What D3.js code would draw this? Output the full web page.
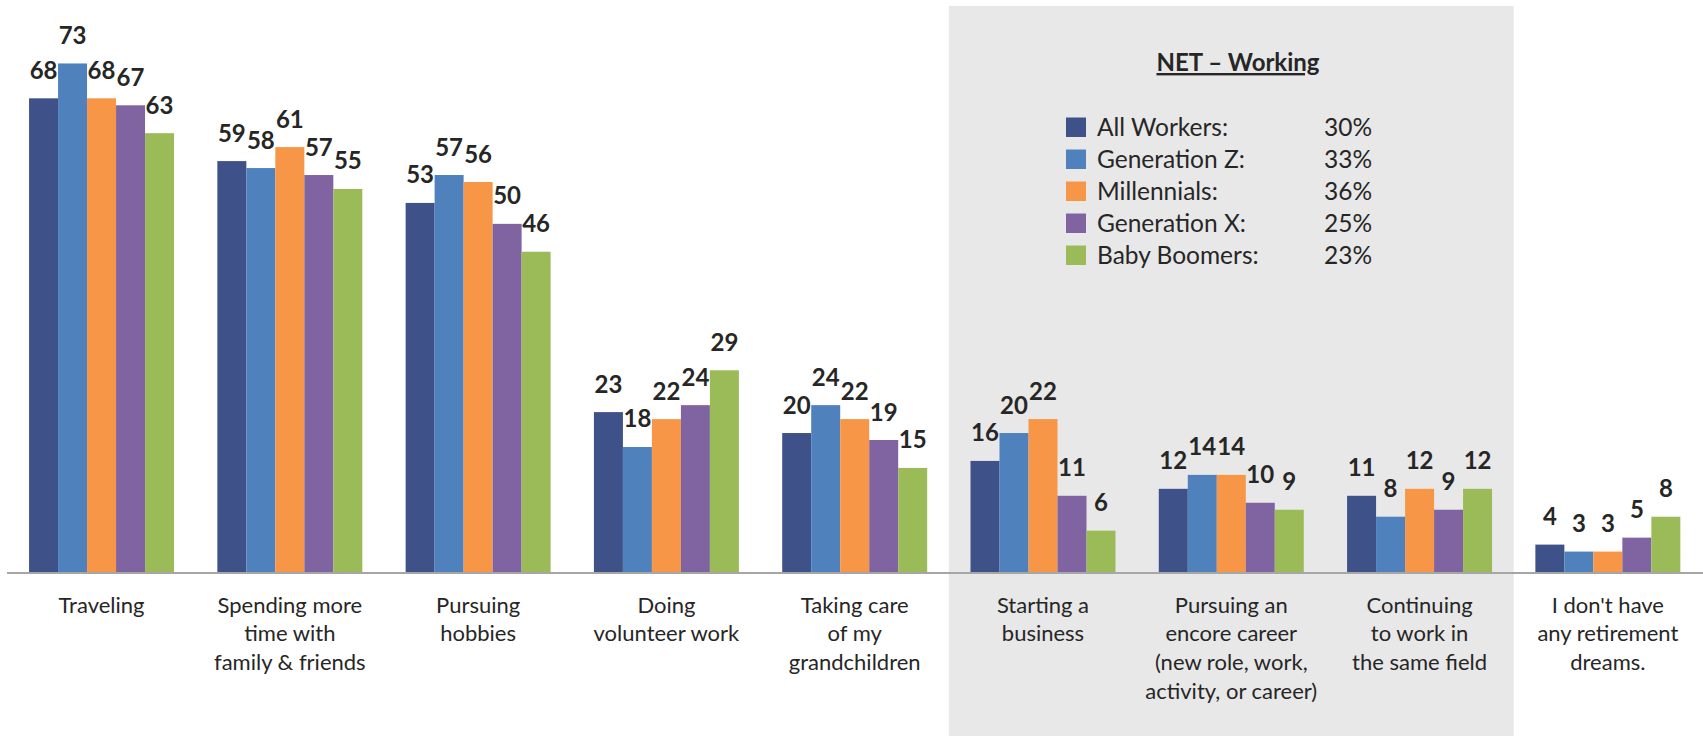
<!DOCTYPE html>
<html>
<head>
<meta charset="utf-8">
<style>
  body { margin: 0; background: #fff; }
  svg { display: block; font-family: Lato, "Open Sans", sans-serif; }
  .bar-label { font-weight: bold; font-size: 24px; fill: #262626; }
  .cat-label { font-size: 22px; fill: #262626; }
  .legend text { font-size: 24.5px; fill: #262626; }
</style>
</head>
<body>
<svg width="1703" height="736"></svg>

<script src="https://d3js.org/d3.v7.min.js"></script>
<script>

// categories (x axis), lines split by |
var categories = [
  "Traveling",
  "Spending more|time with|family & friends",
  "Pursuing|hobbies",
  "Doing|volunteer work",
  "Taking care|of my|grandchildren",
  "Starting a|business",
  "Pursuing an|encore career|(new role, work,|activity, or career)",
  "Continuing|to work in|the same field",
  "I don't have|any retirement|dreams."
];

var seriesNames = ["All Workers:", "Generation Z:", "Millennials:", "Generation X:", "Baby Boomers:"];
var seriesColours = ["#3f5189", "#4f81bd", "#f79646", "#8064a2", "#9bbb59"];
var netWorking = ["30%", "33%", "36%", "25%", "23%"];

// values per series, in category order
var allWorkers   = [68, 59, 53, 23, 20, 16, 12, 11, 4];
var generationZ  = [73, 58, 57, 18, 24, 20, 14, 8, 3];
var millennials  = [68, 61, 56, 22, 22, 22, 14, 12, 3];
var generationX  = [67, 57, 50, 24, 19, 11, 10, 9, 5];
var babyBoomers  = [63, 55, 46, 29, 15, 6, 9, 12, 8];

var seriesValues = [allWorkers, generationZ, millennials, generationX, babyBoomers];

// the shaded "NET - Working" categories
var netCategories = [categories[5], categories[6], categories[7]];

var svg = d3.select("svg"),
    width = +svg.attr("width"),
    height = +svg.attr("height");

var baseline = 572.5;

var x = d3.scaleBand()
    .domain(categories)
    .range([7.4, 1702])
    .paddingInner(0.23)
    .paddingOuter(0.115);

var xInner = d3.scaleBand()
    .domain(seriesNames)
    .range([0, x.bandwidth()]);

var y = d3.scaleLinear()
    .domain([0, 82.1])
    .range([baseline, 0]);

var colour = d3.scaleOrdinal().domain(seriesNames).range(seriesColours);

// grey background behind the NET - Working group
var step = x.step();
var netLeft = x(netCategories[0]) - x.paddingInner() * step / 2;
var netRight = x(netCategories[netCategories.length - 1]) + x.bandwidth() + x.paddingInner() * step / 2;

svg.append("rect")
    .attr("x", netLeft)
    .attr("y", 6)
    .attr("width", netRight - netLeft)
    .attr("height", height - 6)
    .style("fill", "#e8e8e8");

// flatten into rows
var rows = [];
categories.forEach(function(c, i) {
  seriesNames.forEach(function(s, j) {
    rows.push({cat: c, series: s, value: seriesValues[j][i]});
  });
});

var g = svg.append("g");

g.selectAll(".bar")
    .data(rows)
    .enter().append("rect")
    .attr("class", "bar")
    .attr("x", function(d) { return x(d.cat) + xInner(d.series); })
    .attr("y", function(d) { return y(d.value); })
    .attr("width", xInner.bandwidth())
    .attr("height", function(d) { return baseline - y(d.value); })
    .style("fill", function(d) { return colour(d.series); });

g.selectAll(".bar-label")
    .data(rows)
    .enter().append("text")
    .attr("class", "bar-label")
    .attr("text-anchor", "middle")
    .attr("x", function(d) { return x(d.cat) + xInner(d.series) + xInner.bandwidth() / 2; })
    .attr("y", function(d) { return y(d.value) - 19.5; })
    .text(function(d) { return d.value; });

// axis line
svg.append("line")
    .attr("x1", 7)
    .attr("x2", width)
    .attr("y1", baseline + 0.5)
    .attr("y2", baseline + 0.5)
    .style("stroke", "#a6a6a6")
    .style("stroke-width", 2);

// category labels
var cats = svg.selectAll(".cat-label")
    .data(categories)
    .enter().append("text")
    .attr("class", "cat-label")
    .attr("text-anchor", "middle")
    .attr("x", function(d) { return x(d) + x.bandwidth() / 2; })
    .attr("y", 612.5);

cats.selectAll("tspan")
    .data(function(d) { return d.split("|"); })
    .enter().append("tspan")
    .attr("x", function() { var p = d3.select(this.parentNode); return p.attr("x"); })
    .attr("dy", function(d, i) { return i === 0 ? 0 : 28.8; })
    .text(function(d) { return d; });

// legend with NET values
var legend = svg.append("g").attr("class", "legend");

legend.append("text")
    .attr("x", 1238)
    .attr("y", 71)
    .attr("text-anchor", "middle")
    .style("font-weight", "bold")
    .style("font-size", "24px")
    .style("text-decoration", "underline")
    .text("NET \u2013 Working");

var items = legend.selectAll(".item")
    .data(seriesNames)
    .enter().append("g")
    .attr("class", "item")
    .attr("transform", function(d, i) { return "translate(0," + (117.5 + i * 32) + ")"; });

items.append("rect")
    .attr("x", 1066)
    .attr("y", 0)
    .attr("width", 20)
    .attr("height", 19.5)
    .style("fill", function(d) { return colour(d); });

items.append("text")
    .attr("x", 1097)
    .attr("y", 18.5)
    .text(function(d) { return d; });

items.append("text")
    .attr("x", 1324)
    .attr("y", 18.5)
    .text(function(d, i) { return netWorking[i]; });

</script>
</body>
</html>
